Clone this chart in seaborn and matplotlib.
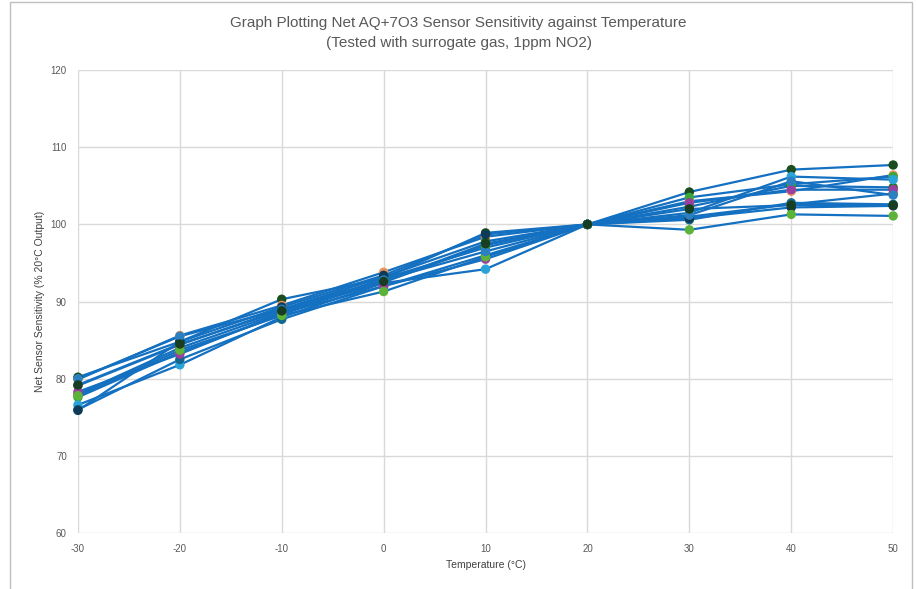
import matplotlib.pyplot as plt
import seaborn as sns
import pandas as pd
from matplotlib.patches import Rectangle

temps = [-30, -20, -10, 0, 10, 20, 30, 40, 50]
s1 = [80.2, 84.8, 90.3, 93.0, 98.9, 100, 104.2, 107.1, 107.7]
s2 = [79.9, 85.6, 89.5, 93.8, 98.4, 100, 103.0, 104.3, 106.4]
s3 = [79.1, 84.4, 89.0, 93.2, 97.8, 100, 102.3, 105.0, 104.8]
s4 = [78.0, 84.0, 88.6, 92.5, 97.3, 100, 101.0, 102.6, 104.0]
s5 = [77.6, 83.4, 88.3, 93.0, 97.0, 100, 103.5, 105.2, 106.2]
s6 = [76.6, 81.8, 88.0, 92.4, 94.2, 100, 101.5, 106.2, 105.8]
s7 = [76.0, 82.5, 87.7, 92.0, 96.0, 100, 100.6, 102.8, 102.6]
s8 = [75.9, 84.8, 89.3, 93.4, 98.7, 100, 100.8, 102.2, 102.4]
s9 = [78.3, 83.2, 88.5, 92.0, 95.5, 100, 102.8, 104.5, 104.5]
s10 = [77.8, 83.7, 88.2, 91.3, 95.8, 100, 99.3, 101.3, 101.1]
s11 = [80.0, 85.5, 89.0, 92.8, 96.5, 100, 101.2, 105.6, 103.8]
s12 = [79.2, 84.5, 88.8, 92.6, 97.5, 100, 102.0, 102.5, 102.5]
series = [s1, s2, s3, s4, s5, s6, s7, s8, s9, s10, s11, s12]
names = ["S%d" % (i + 1) for i in range(len(series))]
marker_colors = ["#1b4d1e", "#e9925c", "#2f6a22", "#a4522a", "#3aa639", "#29a3d8",
                 "#13678c", "#0d3b57", "#9a3ea0", "#5db23a", "#2a80c0", "#173e22"]

rows = []
for n, vals in zip(names, series):
    for t, v in zip(temps, vals):
        rows.append({"series": n, "temp": t, "value": v})
df = pd.DataFrame(rows)

sns.set_style("white")
plt.rcParams['font.family'] = ['Liberation Sans', 'DejaVu Sans']
plt.rcParams['axes.unicode_minus'] = False
fig = plt.figure(figsize=(9.17, 5.89), dpi=100)
ax = fig.add_axes([0.085, 0.095, 0.889, 0.786])

sns.lineplot(data=df, x="temp", y="value", units="series", estimator=None,
             color="#1470c0", linewidth=1.6, ax=ax, zorder=3)
sns.scatterplot(data=df, x="temp", y="value", hue="series", palette=marker_colors,
                s=46, linewidth=0, ax=ax, legend=False, zorder=4, clip_on=False)

ax.set_xlim(-30, 50)
ax.set_ylim(60, 120)
ax.set_xticks(range(-30, 51, 10))
ax.set_yticks(range(60, 121, 10))
ax.grid(True, color="#d9d9d9", linewidth=1)
ax.set_axisbelow(True)
for sp in ax.spines.values():
    sp.set_visible(False)
ax.tick_params(length=0, labelsize=7, colors="#595959", pad=8)
ax.set_xlabel("Temperature (°C)", fontsize=7.5, color="#404040")
ax.set_ylabel("Net Sensor Sensitivity (% 20°C Output)", fontsize=7.5, color="#404040")
fig.suptitle("Graph Plotting Net AQ+7O3 Sensor Sensitivity against Temperature\n(Tested with surrogate gas, 1ppm NO2)",
             fontsize=11, color="#595959", y=0.972, linespacing=1.5)
fig.patches.append(Rectangle((0.011, -0.1), 0.984, 1.096, transform=fig.transFigure,
                             fill=False, edgecolor="#bfbfbf", linewidth=1))
fig.savefig("out.png", dpi=100)
